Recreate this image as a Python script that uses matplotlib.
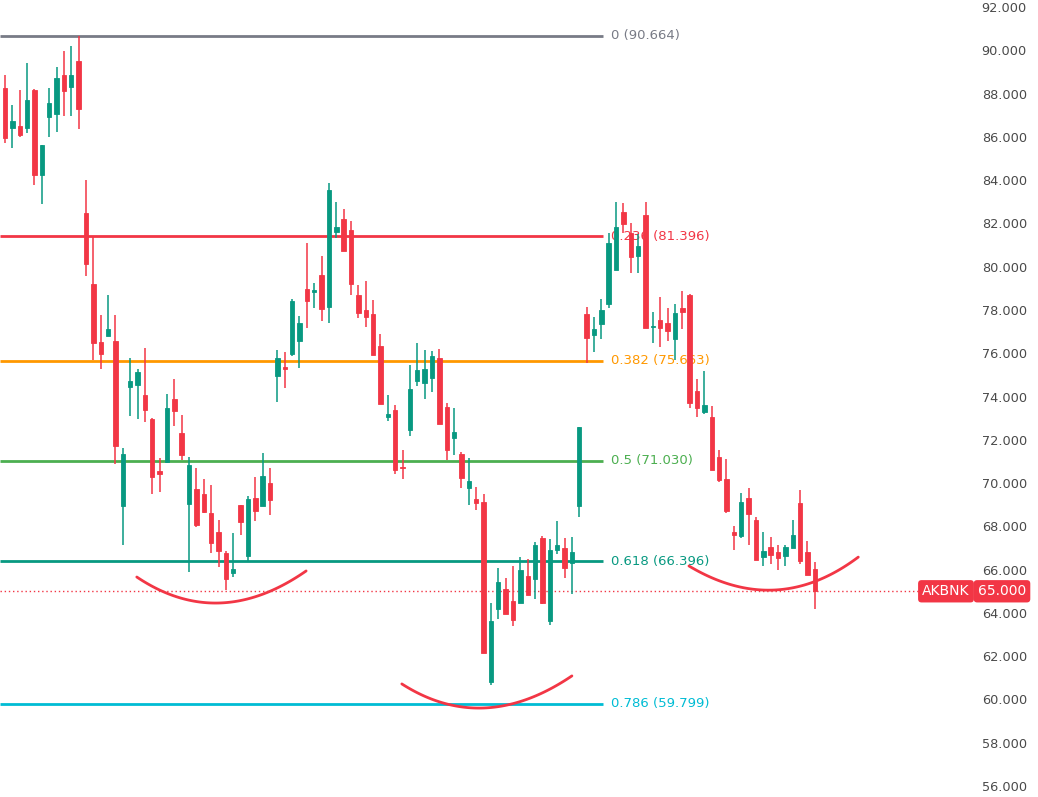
import numpy as np
import matplotlib
matplotlib.use("Agg")
import matplotlib.pyplot as plt
from matplotlib import transforms

# daily candles
opens = [88.26, 86.41, 86.50, 86.41, 88.16, 84.24, 86.92, 87.06, 88.86, 88.30,
         89.50, 82.48, 79.20, 76.52, 76.80, 76.57, 68.94, 74.44, 74.53, 74.07,
         72.96, 70.56, 70.97, 73.89, 72.31, 69.03, 69.73, 69.50, 68.62, 67.74,
         66.77, 65.84, 68.99, 66.63, 69.31, 68.94, 70.00, 74.95, 75.36, 75.96,
         76.57, 78.97, 78.83, 79.62, 78.14, 81.60, 82.20, 81.69, 78.69, 78.00,
         77.81, 76.33, 73.05, 73.38, 70.74, 72.45, 74.72, 74.63, 74.86, 75.78,
         73.52, 72.08, 71.34, 69.77, 69.26, 69.13, 60.81, 64.18, 65.11, 64.55,
         64.46, 65.71, 65.57, 67.46, 63.63, 66.91, 67.00, 66.31, 68.94, 77.81,
         76.84, 77.35, 78.28, 79.85, 82.53, 81.56, 80.49, 82.39, 77.21, 77.54,
         77.40, 76.66, 78.09, 78.69, 74.26, 73.28, 73.05, 71.20, 70.19, 67.74,
         67.55, 69.31, 68.29, 66.58, 67.05, 66.82, 66.63, 67.00, 69.08, 66.82,
         66.03]
highs = [88.86, 87.47, 88.16, 89.41, 88.21, 85.62, 88.26, 89.23, 89.97, 90.20,
         90.66, 84.01, 81.37, 77.77, 78.69, 77.77, 71.62, 75.78, 75.27, 76.24,
         73.01, 71.16, 74.12, 74.81, 73.15, 71.20, 70.70, 70.19, 69.91, 68.29,
         66.86, 67.69, 68.99, 69.40, 70.28, 71.39, 70.70, 76.15, 76.06, 78.51,
         77.72, 81.09, 79.25, 80.49, 83.87, 82.99, 82.67, 82.11, 79.15, 79.34,
         78.46, 76.89, 74.07, 73.61, 71.53, 75.46, 76.47, 76.15, 76.10, 76.20,
         73.70, 73.47, 71.44, 71.16, 69.82, 69.50, 64.46, 66.08, 65.61, 66.17,
         66.58, 66.49, 67.28, 67.55, 67.42, 68.25, 67.46, 67.51, 72.59, 78.14,
         77.67, 78.51, 81.56, 82.99, 82.94, 82.02, 81.51, 82.99, 77.91, 78.60,
         78.09, 78.28, 78.88, 78.75, 74.81, 75.18, 73.56, 71.53, 71.11, 68.02,
         69.54, 69.77, 68.43, 67.74, 67.51, 67.14, 67.14, 68.29, 69.68, 67.32,
         66.35]
lows = [85.72, 85.48, 86.00, 86.18, 83.77, 82.90, 85.99, 86.22, 86.96, 86.96,
        86.36, 79.57, 75.69, 75.27, 76.80, 70.88, 67.14, 73.10, 72.96, 72.82,
        69.50, 69.59, 70.93, 72.64, 71.07, 65.89, 67.97, 68.60, 66.77, 66.12,
        65.06, 65.66, 67.60, 66.40, 68.25, 68.94, 68.52, 73.75, 74.39, 75.87,
        75.32, 77.17, 78.09, 77.49, 77.40, 81.33, 80.72, 78.69, 77.63, 77.21,
        75.92, 73.65, 72.87, 70.42, 70.19, 72.18, 74.49, 73.89, 74.21, 72.73,
        71.07, 71.30, 69.77, 68.99, 68.76, 62.15, 60.67, 63.72, 63.95, 63.40,
        64.46, 64.83, 64.64, 64.41, 63.44, 66.72, 65.61, 64.88, 68.43, 75.55,
        76.06, 76.66, 78.09, 79.85, 81.56, 79.71, 79.71, 77.17, 76.47, 76.29,
        76.57, 75.69, 77.12, 73.47, 73.05, 73.19, 70.60, 70.05, 68.62, 66.91,
        67.46, 67.14, 66.45, 66.17, 66.26, 65.98, 66.17, 67.00, 66.26, 65.75,
        64.18]
closes = [85.95, 86.73, 86.08, 87.70, 84.24, 85.62, 87.56, 88.72, 88.12, 88.86,
          87.29, 80.12, 76.47, 75.96, 77.12, 71.71, 71.34, 74.72, 75.13, 73.38,
          70.28, 70.42, 73.47, 73.33, 71.30, 70.84, 68.06, 68.66, 67.23, 66.86,
          65.57, 66.03, 68.20, 69.26, 68.71, 70.33, 69.22, 75.78, 75.27, 78.41,
          77.40, 78.41, 78.92, 78.04, 83.54, 81.83, 80.72, 79.20, 77.86, 77.67,
          75.92, 73.65, 73.19, 70.60, 70.70, 74.35, 75.23, 75.27, 75.87, 72.73,
          71.53, 72.36, 70.23, 70.10, 69.08, 62.15, 63.63, 65.43, 63.95, 63.67,
          65.98, 64.83, 67.14, 64.46, 66.91, 67.14, 66.08, 66.82, 72.59, 76.70,
          77.12, 78.00, 81.09, 81.83, 81.97, 80.45, 80.96, 77.17, 77.26, 77.17,
          77.03, 77.86, 77.91, 73.70, 73.47, 73.61, 70.60, 70.14, 68.71, 67.60,
          69.13, 68.57, 66.45, 66.86, 66.68, 66.54, 67.05, 67.60, 66.40, 65.75,
          65.00]

fib_ratios = ["0", "0.236", "0.382", "0.5", "0.618", "0.786"]
fib_levels = [90.664, 81.396, 75.663, 71.030, 66.396, 59.799]
fib_colors = ["#787b86", "#f23645", "#ff9800", "#4caf50", "#089981", "#00bcd4"]

# hand drawn "cup" arcs: start, bottom, end as (bar index, price)
arcs = [
    [(17.9, 65.66), (29.2, 64.46), (40.9, 65.94)],
    [(53.9, 60.72), (65.2, 59.61), (77.0, 61.09)],
    [(92.9, 66.17), (104.6, 65.06), (115.9, 66.58)],
]

ticker = "AKBNK"
last_price = 65.00
yticks = np.arange(56, 93, 2)

UP = "#089981"
DOWN = "#f23645"

W, H = 1038, 797
fig = plt.figure(figsize=(W / 100, H / 100), dpi=100)
ax = fig.add_axes([0, 0, 940 / W, 1])

n = len(opens)
x = np.arange(n)
o = np.array(opens); c = np.array(closes)
cols = [UP if cc >= oo else DOWN for oo, cc in zip(o, c)]

ax.vlines(x, lows, highs, colors=cols, linewidth=1.1, zorder=3)
ax.bar(x, c - o, bottom=o, width=0.6, color=cols, edgecolor=cols,
       linewidth=0.6, zorder=4)

x_left = -0.68
fib_end = 81.2
ax.hlines(fib_levels, x_left, fib_end, colors=fib_colors, linewidth=2, zorder=2)
for r, lv, col in zip(fib_ratios, fib_levels, fib_colors):
    ax.text(82.3, lv, f"{r} ({lv:.3f})", color=col, fontsize=9.5,
            va="center", ha="left", zorder=2)

for p0, pm, p2 in arcs:
    p0, pm, p2 = np.array(p0), np.array(pm), np.array(p2)
    ctrl = 2 * pm - (p0 + p2) / 2
    t = np.linspace(0, 1, 80)[:, None]
    pts = (1 - t) ** 2 * p0 + 2 * t * (1 - t) * ctrl + t ** 2 * p2
    ax.plot(pts[:, 0], pts[:, 1], color=DOWN, linewidth=2, zorder=5,
            solid_capstyle="round")

ax.hlines(last_price, x_left, 124.0, colors=DOWN, linewidth=1,
          linestyles=(0, (1, 2)), zorder=1)

ax.set_xlim(x_left, 127.0)
ax.set_ylim(55.494, 92.323)
ax.yaxis.tick_right()
ax.set_yticks(yticks)
ax.set_yticklabels([f"{v:.3f}" for v in yticks])
ax.tick_params(axis="y", length=0, pad=30, labelsize=9.3, labelcolor="#4a4a4a")
ax.set_xticks([])
for s in ax.spines.values():
    s.set_visible(False)

tr = transforms.blended_transform_factory(fig.transFigure, ax.transData)
ax.text(946 / W, last_price, ticker, transform=tr, ha="center", va="center",
        color="white", fontsize=10, clip_on=False, zorder=6,
        bbox=dict(boxstyle="round,pad=0.3,rounding_size=0.25", fc=DOWN, ec="none"))
ax.text(1002 / W, last_price, f"{last_price:.3f}", transform=tr, ha="center",
        va="center", color="white", fontsize=10, clip_on=False, zorder=6,
        bbox=dict(boxstyle="round,pad=0.3,rounding_size=0.25", fc=DOWN, ec="none"))

fig.savefig("out.png", dpi=100, facecolor="white")
